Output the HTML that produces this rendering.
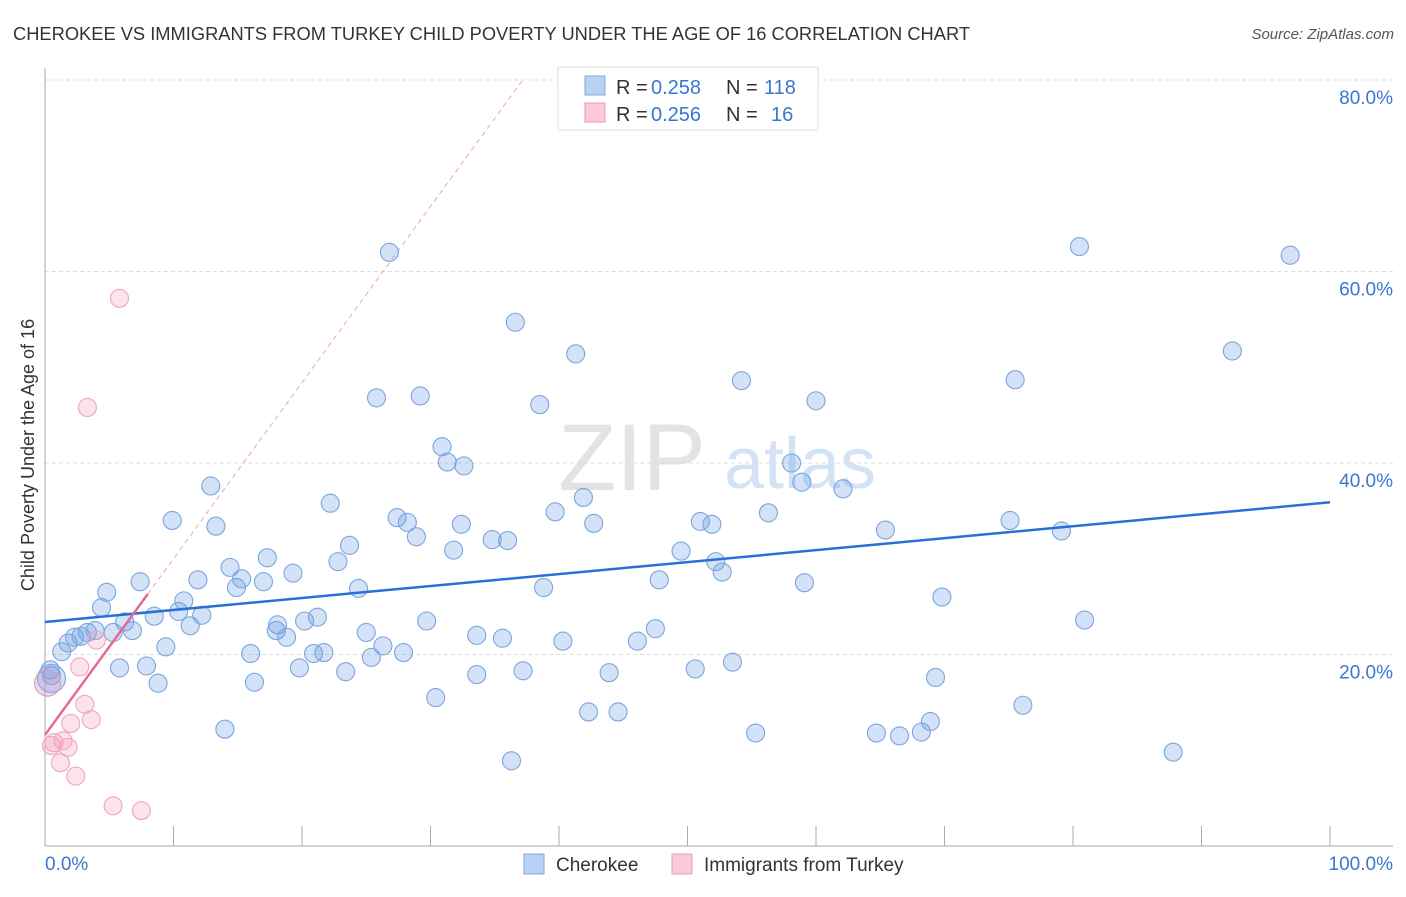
<!DOCTYPE html>
<html><head><meta charset="utf-8"><style>
body{margin:0;background:#fff;font-family:"Liberation Sans",sans-serif;}
svg text{font-family:"Liberation Sans",sans-serif;}
</style></head><body>
<svg id="chart" width="1406" height="892" viewBox="0 0 1406 892" xmlns="http://www.w3.org/2000/svg">
<text x="13" y="40" font-size="18" fill="#333" textLength="957" lengthAdjust="spacingAndGlyphs">CHEROKEE VS IMMIGRANTS FROM TURKEY CHILD POVERTY UNDER THE AGE OF 16 CORRELATION CHART</text>
<text x="1394" y="39" font-size="15" fill="#555" font-style="italic" text-anchor="end">Source: ZipAtlas.com</text>
<g><text x="632" y="490" font-size="95" fill="#e3e3e3" font-family="Liberation Serif,serif" text-anchor="middle">ZIP</text><text x="800" y="488" font-size="72" fill="#d3e2f5" text-anchor="middle">atlas</text></g>
<g id="grid"></g><g id="axes"></g><g id="marks"></g>
<text transform="translate(34,455) rotate(-90)" font-size="18" fill="#333" text-anchor="middle">Child Poverty Under the Age of 16</text>
<g>
<rect x="558" y="67" width="260" height="63" fill="#fff" stroke="#ddd"/>
<rect x="585" y="76" width="20" height="19" fill="#b8d2f5" stroke="#7fa8e0"/>
<text x="616" y="94" font-size="20" fill="#333">R =</text><text x="651" y="94" font-size="20" fill="#3a76d0">0.258</text>
<text x="726" y="94" font-size="20" fill="#333">N =</text><text x="764" y="94" font-size="20" fill="#3a76d0">118</text>
<rect x="585" y="103" width="20" height="19" fill="#fbc9d7" stroke="#ec9ab3"/>
<text x="616" y="121" font-size="20" fill="#333">R =</text><text x="651" y="121" font-size="20" fill="#3a76d0">0.256</text>
<text x="726" y="121" font-size="20" fill="#333">N =</text><text x="771" y="121" font-size="20" fill="#3a76d0">16</text>
</g>
<g>
<rect x="524" y="854" width="20" height="20" fill="#b8d2f5" stroke="#7fa8e0"/>
<text x="556" y="871" font-size="19" fill="#333">Cherokee</text>
<rect x="672" y="854" width="20" height="20" fill="#fbc9d7" stroke="#ec9ab3"/>
<text x="704" y="871" font-size="19" fill="#333">Immigrants from Turkey</text>
</g>
</svg>
<script>
const xTicks=[0,10,20,30,40,50,60,70,80,90,100];
const yTicks=[20,40,60,80];
const yTickLabels=["20.0%","40.0%","60.0%","80.0%"];
const xEndLabels=["0.0%","100.0%"];
const blueX=[0.5,0.4,1.3,1.8,2.3,2.8,3.3,3.9,4.4,4.8,5.3,5.8,6.2,6.8,7.4,7.9,8.5,8.8,9.4,9.9,10.4,10.8,11.3,11.9,12.2,12.9,13.3,14.0,14.4,14.9,15.3,16.0,16.3,17.0,17.3,18.0,18.1,18.8,19.3,19.8,20.2,20.9,21.2,21.7,22.2,22.8,23.4,23.7,24.4,25.0,25.4,25.8,26.3,26.8,27.4,27.9,28.2,28.9,29.2,29.7,30.4,30.9,31.3,31.8,32.4,32.6,33.6,33.6,34.8,35.6,36.0,36.3,36.6,37.2,38.5,38.8,39.7,40.3,41.3,41.9,42.3,42.7,43.9,44.6,46.1,47.5,47.8,49.5,50.6,51.0,51.9,52.2,52.7,53.5,54.2,55.3,56.3,58.1,58.9,59.1,60.0,62.1,64.7,65.4,66.5,68.2,68.9,69.3,69.8,75.1,75.5,76.1,79.1,80.5,80.9,87.8,92.4,96.9];
const blueY=[17.8,18.4,20.3,21.2,21.8,21.9,22.3,22.5,24.9,26.5,22.3,18.6,23.4,22.5,27.6,18.8,24.0,17.0,20.8,34.0,24.5,25.6,23.0,27.8,24.1,37.6,33.4,12.2,29.1,27.0,27.9,20.1,17.1,27.6,30.1,22.5,23.1,21.8,28.5,18.6,23.5,20.1,23.9,20.2,35.8,29.7,18.2,31.4,26.9,22.3,19.7,46.8,20.9,62.0,34.3,20.2,33.8,32.3,47.0,23.5,15.5,41.7,40.1,30.9,33.6,39.7,22.0,17.9,32.0,21.7,31.9,8.9,54.7,18.3,46.1,27.0,34.9,21.4,51.4,36.4,14.0,33.7,18.1,14.0,21.4,22.7,27.8,30.8,18.5,33.9,33.6,29.7,28.6,19.2,48.6,11.8,34.8,40.0,38.0,27.5,46.5,37.3,11.8,33.0,11.5,11.9,13.0,17.6,26.0,34.0,48.7,14.7,32.9,62.6,23.6,9.8,51.7,61.7];
const pinkX=[5.8,3.3,2.7,4.0,3.1,3.6,2.0,0.7,1.4,1.8,1.2,2.4,5.3,7.5,0.5];
const pinkY=[57.2,45.8,18.7,21.5,14.8,13.2,12.8,10.8,11.0,10.3,8.7,7.3,4.2,3.7,10.5];
const blueTrend=[23.4,35.9];
const pinkTrend=[11.6,1.84];
const X=v=>45+v*12.85, Y=v=>846-v*9.575;
const NS="http://www.w3.org/2000/svg";
function mk(p,tag,at){const e=document.createElementNS(NS,tag);for(const k in at)e.setAttribute(k,at[k]);p.appendChild(e);return e;}
const grid=document.getElementById('grid'),axes=document.getElementById('axes'),marks=document.getElementById('marks');
yTicks.forEach((t,i)=>{
 const l=mk(grid,'line',{x1:45,x2:1393,y1:Y(t),y2:Y(t),stroke:'#ddd','stroke-dasharray':'4,3'});
 
 
 const tx=mk(axes,'text',{x:1393,y:Y(t)+24,'font-size':19,fill:'#3a76d0','text-anchor':'end'});tx.textContent=yTickLabels[i];
 
 
});
const ya=mk(axes,'line',{x1:45,x2:45,y1:68,y2:846,stroke:'#aaa'});


const xa=mk(axes,'line',{x1:45,x2:1393,y1:846,y2:846,stroke:'#aaa'});


xTicks.forEach(t=>{
 const l=mk(axes,'line',{x1:X(t),x2:X(t),y1:826,y2:846,stroke:'#aaa'});
 
 
});
[[0,'start',45],[100,'end',1393]].forEach((d,i)=>{
 const tx=mk(axes,'text',{x:d[2],y:870,'font-size':19,fill:'#3a76d0','text-anchor':d[1]});tx.textContent=xEndLabels[i];
 
 
});
const xEnd=(80-pinkTrend[0])/pinkTrend[1];
const pd=mk(marks,'line',{x1:X(8),y1:Y(pinkTrend[0]+pinkTrend[1]*8),x2:X(xEnd),y2:Y(80),stroke:'#eba4b9','stroke-dasharray':'5,4','stroke-width':1});


blueX.forEach((x,i)=>{
 const c=mk(marks,'circle',{cx:X(x),cy:Y(blueY[i]),r:9,fill:'rgba(110,160,230,0.3)',stroke:'#7aa5df','stroke-width':1.1});
 
 
});
const big=mk(marks,'circle',{cx:X(0.5),cy:Y(17.5),r:14,fill:'rgba(110,160,230,0.3)',stroke:'#7aa5df','stroke-width':1.1});


pinkX.forEach((x,i)=>{
 const c=mk(marks,'circle',{cx:X(x),cy:Y(pinkY[i]),r:9,fill:'rgba(245,160,185,0.3)',stroke:'#eda7bc','stroke-width':1.1});
 
 
});
const pb=mk(marks,'circle',{cx:X(0.2),cy:Y(17.0),r:13,fill:'rgba(200,150,200,0.35)',stroke:'#d99ab8','stroke-width':1.1});


const bt=mk(marks,'line',{x1:X(0),y1:Y(blueTrend[0]),x2:X(100),y2:Y(blueTrend[1]),stroke:'#2a6fd6','stroke-width':2.5});


const pt=mk(marks,'line',{x1:X(0),y1:Y(pinkTrend[0]),x2:X(8),y2:Y(pinkTrend[0]+pinkTrend[1]*8),stroke:'#e56a92','stroke-width':2.5});


</script>
</body></html>
